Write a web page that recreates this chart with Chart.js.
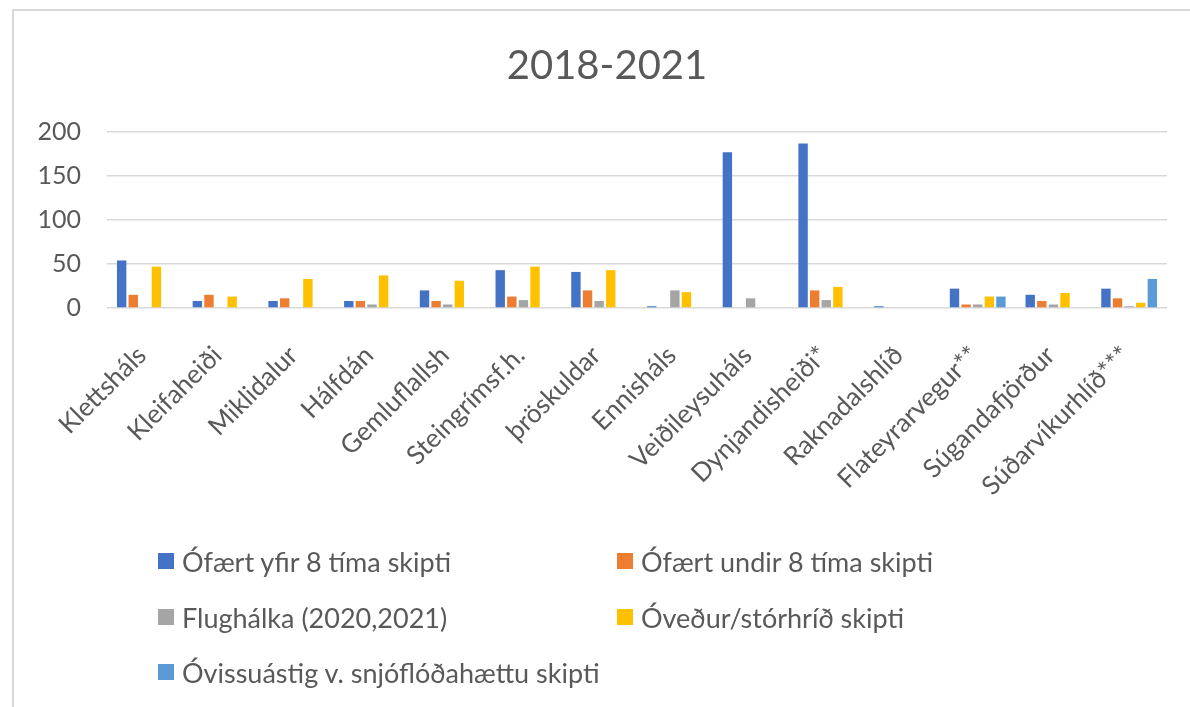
<!DOCTYPE html>
<html>
<head>
<meta charset="utf-8">
<script src="https://cdn.jsdelivr.net/npm/chart.js@4/dist/chart.umd.min.js"></script>
<style>
  html, body { margin: 0; padding: 0; background: #fff; }
  #wrap { position: relative; width: 1190px; height: 707px; overflow: hidden; }
  #frame { position: absolute; left: 12px; top: 9px; width: 1300px; height: 900px; border: 2px solid #d9d9d9; box-sizing: border-box; pointer-events: none; }
  canvas { position: absolute; left: 0; top: 0; }
  #title { position: absolute; left: 407px; width: 400px; top: 40px; height: 48px; line-height: 48px; text-align: center; font-family: Lato, sans-serif; font-size: 40px; color: #595959; }
  .leg { position: absolute; font-family: Lato, sans-serif; font-size: 27px; color: #595959; display: flex; align-items: center; white-space: nowrap; }
  .leg span.box { display: inline-block; width: 16px; height: 16px; margin-right: 8px; }
</style>
</head>
<body>
<div id="wrap">
  <canvas id="c" width="1190" height="707"></canvas>
  <div id="frame"></div>
  <div id="title"></div>
  <div id="legend"></div>
</div>
<script>
const categories = ['Klettsháls','Kleifaheiði','Miklidalur','Hálfdán','Gemluflallsh','Steingrímsf.h.','þröskuldar','Ennisháls','Veiðileysuháls','Dynjandisheiði*','Raknadalshlíð','Flateyrarvegur**','Súgandafjörður','Súðarvíkurhlíð***'];
const seriesNames = ['Ófært yfir 8 tíma skipti','Ófært undir 8 tíma skipti','Flughálka (2020,2021)','Óveður/stórhríð skipti','Óvissuástig v. snjóflóðahættu skipti'];
const ofaertYfir = [54, 8, 8, 8, 20, 43, 41, 2, 177, 187, 2, 22, 15, 22];
const ofaertUndir = [15, 15, 11, 8, 8, 13, 20, 0, 0, 20, 0, 4, 8, 11];
const flughalka = [0, 0, 0, 4, 4, 9, 8, 20, 11, 9, 0, 4, 4, 2];
const ovedur = [47, 13, 33, 37, 31, 47, 43, 18, 0, 24, 0, 13, 17, 6];
const ovissustig = [0, 0, 0, 0, 0, 0, 0, 0, 0, 0, 0, 13, 0, 33];
const yTicks = [0, 50, 100, 150, 200];
const title = '2018-2021';

const colors = ['#4472C4', '#ED7D31', '#A5A5A5', '#FFC000', '#5B9BD5'];
const values = [ofaertYfir, ofaertUndir, flughalka, ovedur, ovissustig];

const datasets = values.map((v, i) => ({
  label: seriesNames[i],
  data: v,
  backgroundColor: colors[i],
  borderWidth: 0,
  categoryPercentage: 0.766,
  barPercentage: 0.81
}));

const FONT = 'Lato, sans-serif';
const TXT = '#595959';

document.getElementById('title').textContent = title;

new Chart(document.getElementById('c'), {
  type: 'bar',
  data: { labels: categories, datasets },
  options: {
    responsive: false,
    animation: false,
    devicePixelRatio: 1,
    layout: { padding: { left: 13, right: 23, top: 132, bottom: 179 } },
    plugins: {
      legend: { display: false },
      tooltip: { enabled: false },
      title: { display: false }
    },
    scales: {
      x: {
        grid: { display: false },
        border: { display: false },
        ticks: {
          color: TXT,
          font: { family: FONT, size: 26 },
          minRotation: 45, maxRotation: 45,
          autoSkip: false,
          padding: 24,
          labelOffset: -3
        },
        afterFit: (s) => { s.height = 220; }
      },
      y: {
        min: 0, max: 200,
        afterBuildTicks: (s) => { s.ticks = yTicks.map(v => ({ value: v })); },
        grid: { color: '#d9d9d9', lineWidth: 1.5, drawTicks: false },
        border: { display: false },
        ticks: {
          color: TXT,
          font: { family: FONT, size: 25 },
          padding: 26
        },
        afterFit: (s) => { s.width = 94; }
      }
    }
  }
});

// HTML legend built from the dataset list
const legendPos = [[158, 561], [617, 561], [158, 617], [617, 617], [158, 672]];
const legEl = document.getElementById('legend');
seriesNames.forEach((name, i) => {
  const d = document.createElement('div');
  d.className = 'leg';
  d.style.left = legendPos[i][0] + 'px';
  d.style.top = (legendPos[i][1] - 17) + 'px';
  d.style.height = '34px';
  const b = document.createElement('span');
  b.className = 'box';
  b.style.background = colors[i];
  d.appendChild(b);
  d.appendChild(document.createTextNode(name));
  legEl.appendChild(d);
});
</script>
</body>
</html>
